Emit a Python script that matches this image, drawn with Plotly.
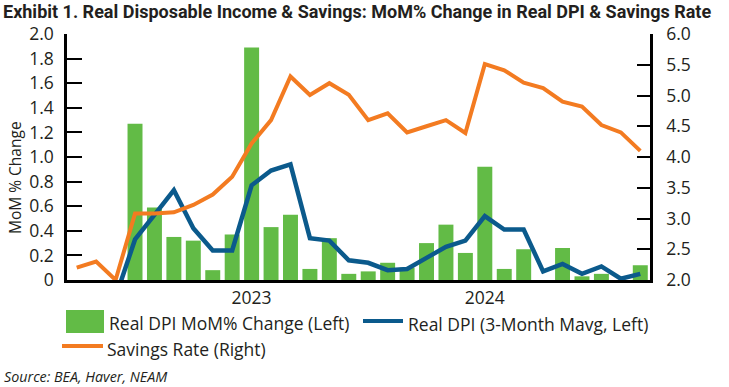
import plotly.graph_objects as go

# ---------------- data ----------------
months = ["2022-04", "2022-05", "2022-06", "2022-07", "2022-08", "2022-09", "2022-10",
          "2022-11", "2022-12", "2023-01", "2023-02", "2023-03", "2023-04", "2023-05",
          "2023-06", "2023-07", "2023-08", "2023-09", "2023-10", "2023-11", "2023-12",
          "2024-01", "2024-02", "2024-03", "2024-04", "2024-05", "2024-06", "2024-07",
          "2024-08", "2024-09"]

dpi_mom = [-0.02, -0.03, -0.27, 1.27, 0.59, 0.35, 0.32, 0.08, 0.37, 1.89,
           0.43, 0.53, 0.09, 0.34, 0.05, 0.07, 0.14, 0.10, 0.30, 0.45,
           0.22, 0.92, 0.09, 0.25, -0.13, 0.26, 0.03, 0.05, -0.05, 0.12]

dpi_3m = [None, None, -0.14, 0.33, 0.53, 0.73, 0.42, 0.24, 0.24, 0.77,
          0.89, 0.94, 0.34, 0.32, 0.16, 0.14, 0.08, 0.09, 0.18, 0.27,
          0.32, 0.52, 0.41, 0.41, 0.07, 0.13, 0.05, 0.11, 0.01, 0.05]

savings_rate = [2.20, 2.30, 2.00, 3.08, 3.08, 3.10, 3.22, 3.39, 3.68, 4.22,
                4.60, 5.31, 5.01, 5.20, 5.01, 4.60, 4.71, 4.40, 4.50, 4.60,
                4.39, 5.51, 5.41, 5.21, 5.12, 4.90, 4.82, 4.52, 4.40, 4.10]

year_ticks = ["2023-01", "2024-01"]
year_labels = ["2023", "2024"]

left_ticks = [0, 0.2, 0.4, 0.6, 0.8, 1.0, 1.2, 1.4, 1.6, 1.8, 2.0]
left_labels = ["0", "0.2", "0.4", "0.6", "0.8", "1.0", "1.2", "1.4", "1.6", "1.8", "2.0"]
right_ticks = [2.0, 2.5, 3.0, 3.5, 4.0, 4.5, 5.0, 5.5, 6.0]

# ---------------- style ----------------
GREEN = "#62BB46"
BLUE = "#0B5A8C"
ORANGE = "#F37B21"
TXT = "#231F20"
FONT = "Open Sans"
TICK_SIZE = 17.5
LEG_SIZE = 17.5

W, H = 729, 387
L, R, T, B = 67, 650, 34, 280


def px(x):
    return (x - L) / (R - L)


def py(y):
    return (B - y) / (B - T)


fig = go.Figure()
fig.add_trace(go.Bar(x=months, y=dpi_mom, marker_color=GREEN, marker_line_width=0,
                     name="Real DPI MoM% Change (Left)", yaxis="y"))
fig.add_trace(go.Scatter(x=months, y=dpi_3m, mode="lines",
                         line=dict(color=BLUE, width=4.5), name="Real DPI (3-Month Mavg, Left)",
                         yaxis="y", connectgaps=False))
fig.add_trace(go.Scatter(x=months, y=savings_rate, mode="lines",
                         line=dict(color=ORANGE, width=4), name="Savings Rate (Right)",
                         yaxis="y2"))

fig.update_layout(
    width=W, height=H,
    margin=dict(l=L, r=W - R, t=T, b=H - B, pad=0),
    paper_bgcolor="white", plot_bgcolor="white",
    showlegend=False,
    bargap=0.23,
    font=dict(family=FONT, color=TXT, size=16),
    title=dict(text="<b>Exhibit 1. Real Disposable Income & Savings: MoM% Change in Real DPI & Savings Rate</b>",
               x=3 / W, xanchor="left", y=1 - 12 / H, yanchor="middle",
               font=dict(family="Roboto", size=18, color=TXT)),
    xaxis=dict(type="category", categoryorder="array", categoryarray=months,
               tickvals=year_ticks, ticktext=year_labels, ticks="",
               showline=True, linecolor="black", linewidth=2.5, showgrid=False,
               zeroline=False, tickfont=dict(size=TICK_SIZE), range=[-0.5, len(months) - 0.5]),
    yaxis=dict(range=[0, 2.0], tickvals=left_ticks, ticktext=left_labels,
               ticks="inside", ticklen=15, tickwidth=2, tickcolor="black",
               showline=True, linecolor="black", linewidth=2.5, showgrid=False,
               zeroline=False, tickfont=dict(size=TICK_SIZE), ticklabelstandoff=7),
    yaxis2=dict(range=[2.0, 6.0], tickvals=right_ticks, tickformat=".1f", ticksuffix="%",
                overlaying="y", side="right",
                ticks="inside", ticklen=13, tickwidth=2, tickcolor="black",
                showline=True, linecolor="black", linewidth=2.5, showgrid=False,
                zeroline=False, tickfont=dict(size=TICK_SIZE), ticklabelstandoff=10),
)

shapes = [
    dict(type="rect", xref="paper", yref="paper", x0=px(66), x1=px(104), y0=py(333), y1=py(310),
         fillcolor=GREEN, line_width=0),
    dict(type="line", xref="paper", yref="paper", x0=px(363), x1=px(403), y0=py(321), y1=py(321),
         line=dict(color=BLUE, width=4)),
    dict(type="line", xref="paper", yref="paper", x0=px(62), x1=px(103), y0=py(346), y1=py(346),
         line=dict(color=ORANGE, width=4)),
]
fig.update_layout(shapes=shapes)

ann = [
    dict(text="Real DPI MoM% Change (Left)", x=px(107), y=py(323), xanchor="left", yanchor="middle"),
    dict(text="Real DPI (3-Month Mavg, Left)", x=px(406), y=py(324), xanchor="left", yanchor="middle"),
    dict(text="Savings Rate (Right)", x=px(105), y=py(349), xanchor="left", yanchor="middle"),
]
annotations = [dict(a, xref="paper", yref="paper", showarrow=False,
                    font=dict(family=FONT, size=LEG_SIZE, color=TXT)) for a in ann]
annotations.append(dict(text="MoM % Change", x=px(15), y=py(178), xref="paper", yref="paper",
                        textangle=-90, showarrow=False, xanchor="center", yanchor="middle",
                        font=dict(family=FONT, size=15.5, color=TXT)))
annotations.append(dict(text="<i>Source: BEA, Haver, NEAM</i>", x=px(2), y=py(376),
                        xref="paper", yref="paper", showarrow=False, xanchor="left",
                        yanchor="middle", font=dict(family=FONT, size=14.3, color=TXT)))
fig.update_layout(annotations=annotations)

fig.write_html("out.html", config={"displayModeBar": False},
               post_script="document.body.style.margin='0';")
